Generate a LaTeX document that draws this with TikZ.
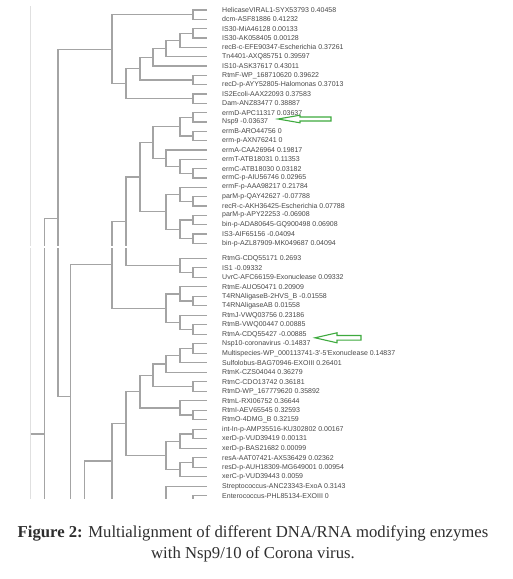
\documentclass[tikz,border=0pt]{standalone}
\usepackage{fontspec}
\setmainfont{Liberation Serif}
\newfontfamily\treefont{Liberation Sans}
\definecolor{treegray}{HTML}{A4A4A4}
\definecolor{arrowgreen}{HTML}{3EAA3E}

\tikzset{
    branch/.style={draw=treegray, line width=1.3pt},
    faintbranch/.style={draw=black!12, line width=1pt},
    leaflabel/.style={anchor=west, inner sep=0pt, text=black!72,
        font=\treefont\fontsize{7}{8}\selectfont},
    hollowarrow/.style={draw=arrowgreen, line width=1.1pt, fill=white},
}

\begin{document}
\begin{tikzpicture}[x=1pt, y=-1pt]
    \useasboundingbox (0,0) rectangle (512,579);

    \begin{scope}
    \clip (0,0) rectangle (512,498.5);

    % leaves
    \foreach \lab [count=\i] in {
        HelicaseVIRAL1-SYX53793 0.40458, dcm-ASF81886 0.41232,
        IS30-MiA46128 0.00133, IS30-AK058405 0.00128,
        recB-c-EFE90347-Escherichia 0.37261, Tn4401-AXQ85751 0.39597,
        IS10-ASK37617 0.43011, RtmF-WP\_168710620 0.39622,
        recD-p-AYY52805-Halomonas 0.37013, IS2Ecoli-AAX22093 0.37583,
        Dam-ANZ83477 0.38887, ermD-APC11317 0.03637, Nsp9 -0.03637,
        ermB-ARO44756 0, erm-p-AXN76241 0, ermA-CAA26964 0.19817,
        ermT-ATB18031 0.11353, ermC-ATB18030 0.03182,
        ermC-p-AIU56746 0.02965, ermF-p-AAA98217 0.21784,
        parM-p-QAY42627 -0.07788, recR-c-AKH36425-Escherichia 0.07788,
        parM-p-APY22253 -0.06908, bin-p-ADA80645-GQ900498 0.06908,
        IS3-AIF65156 -0.04094, bin-p-AZL87909-MK049687 0.04094,
        RtmG-CDQ55171 0.2693, IS1 -0.09332,
        UvrC-AFC66159-Exonuclease 0.09332, RtmE-AUO50471 0.20909,
        T4RNAligaseB-2HVS\_B -0.01558, T4RNAligaseAB 0.01558,
        RtmJ-VWQ03756 0.23186, RtmB-VWQ00447 0.00885,
        RtmA-CDQ55427 -0.00885, Nsp10-coronavirus -0.14837,
        Multispecies-WP\_000113741-3'-5'Exonuclease 0.14837,
        Sulfolobus-BAG70946-EXOIII 0.26401, RtmK-CZS04044 0.36279,
        RtmC-CDO13742 0.36181, RtmD-WP\_167779620 0.35892,
        RtmL-RXI06752 0.36644, RtmI-AEV65545 0.32593,
        RtmO-4DMG\_B 0.32159, int-In-p-AMP35516-KU302802 0.00167,
        xerD-p-VUD39419 0.00131, xerD-p-BAS21682 0.00099,
        resA-AAT07421-AX536429 0.02362, resD-p-AUH18309-MG649001 0.00954,
        xerC-p-VUD39443 0.0059, Streptococcus-ANC23343-ExoA 0.3143,
        Enterococcus-PHL85134-EXOIII 0}{
        \pgfmathsetmacro\ly{\i<27 ? 10+(\i-1)*9.33 : 258.3+(\i-27)*9.5}
        \coordinate (t\i) at (207,\ly);
        \node[leaflabel] (l\i) at (222,\ly) {\lab};
    }

    % clades, upper block
    \coordinate (c12) at (193,14.7);
    \coordinate (c34) at (193,33.3);
    \coordinate (cB) at (180,40.3);
    \coordinate (cC) at (166,48.5);
    \coordinate (cD) at (153,57.2);
    \coordinate (c89) at (193,80);
    \coordinate (cE) at (140,68.6);
    \coordinate (c1011) at (193,98.7);
    \coordinate (cF) at (126,83.6);
    \coordinate (cG) at (112,49.2);
    \coordinate (cH) at (58,218.3);
    \coordinate (cHlow) at (70.7,396.7);

    \draw[branch] (t1) -| (c12) |- (t2);
    \draw[branch] (t3) -| (c34) |- (t4);
    \draw[branch] (c34) -| (cB) |- (t5);
    \draw[branch] (cB) -| (cC) |- (t6);
    \draw[branch] (cC) -| (cD) |- (t7);
    \draw[branch] (t8) -| (c89) |- (t9);
    \draw[branch] (cD) -| (cE) |- (c89);
    \draw[branch] (t10) -| (c1011) |- (t11);
    \draw[branch] (cE) -| (cF) |- (c1011);
    \draw[branch] (c12) -| (cG) |- (cF);
    \draw[branch] (cG) -| (cH) |- (cHlow);

    % erm / parM block
    \coordinate (c1213) at (193,117.3);
    \coordinate (c1415) at (193,136);
    \coordinate (cL) at (180,126.6);
    \coordinate (c1819) at (193,173.3);
    \coordinate (cM) at (180,166.3);
    \coordinate (cN) at (166,158.2);
    \coordinate (cO) at (153,142.4);
    \coordinate (c2122) at (193,201.3);
    \coordinate (cP) at (180,194.3);
    \coordinate (c2324) at (193,220);
    \coordinate (c2526) at (193,238.7);
    \coordinate (cQ) at (180,229.3);
    \coordinate (cR) at (166,211.8);
    \coordinate (cS) at (140,177.1);

    \draw[branch] (t12) -| (c1213) |- (t13);
    \draw[branch] (t14) -| (c1415) |- (t15);
    \draw[branch] (c1213) -| (cL) |- (c1415);
    \draw[branch] (t18) -| (c1819) |- (t19);
    \draw[branch] (t17) -| (cM) |- (c1819);
    \draw[branch] (t16) -| (cN) |- (cM);
    \draw[branch] (cL) -| (cO) |- (cN);
    \draw[branch] (t21) -| (c2122) |- (t22);
    \draw[branch] (t20) -| (cP) |- (c2122);
    \draw[branch] (t23) -| (c2324) |- (t24);
    \draw[branch] (t25) -| (c2526) |- (t26);
    \draw[branch] (c2324) -| (cQ) |- (c2526);
    \draw[branch] (cP) -| (cR) |- (cQ);
    \draw[branch] (cO) -| (cS) |- (cR);

    % Rtm / exonuclease block
    \coordinate (c2829) at (193,272.6);
    \coordinate (cT) at (180,265.4);
    \coordinate (cU) at (126,221.3);
    \coordinate (c3132) at (193,301);
    \coordinate (cV) at (180,293.9);
    \coordinate (c3435) at (193,329.6);
    \coordinate (cW) at (180,322.4);
    \coordinate (cX) at (166,308.2);
    \coordinate (cY) at (112,264.7);
    \coordinate (cZ) at (70.7,505);

    \draw[branch] (t28) -| (c2829) |- (t29);
    \draw[branch] (t27) -| (cT) |- (c2829);
    \draw[branch] (cS) -| (cU) |- (cT);
    \draw[branch] (t31) -| (c3132) |- (t32);
    \draw[branch] (t30) -| (cV) |- (c3132);
    \draw[branch] (t34) -| (c3435) |- (t35);
    \draw[branch] (t33) -| (cW) |- (c3435);
    \draw[branch] (cV) -| (cX) |- (cW);
    \draw[branch] (cU) -| (cY) |- (cX);
    \draw[branch] (cY) -| (cZ);

    % lower block
    \coordinate (c3637) at (193,348.6);
    \coordinate (cAA) at (180,355.7);
    \coordinate (cAB) at (166,364);
    \coordinate (c4041) at (193,386.6);
    \coordinate (cAC) at (153,375.3);
    \coordinate (c4344) at (193,415);
    \coordinate (cAD) at (180,407.9);
    \coordinate (cAE) at (140,391.6);
    \coordinate (c4546) at (193,434);
    \coordinate (cAF) at (180,441.2);
    \coordinate (c4849) at (193,462.6);
    \coordinate (cAG) at (180,469.7);
    \coordinate (cAH) at (166,455.4);
    \coordinate (cAI) at (126,423.5);
    \coordinate (cAJ) at (112,505);
    \coordinate (cAM) at (112,461);
    \coordinate (cAL) at (84.3,505);
    \coordinate (cAN) at (166,505);
    \coordinate (cAO) at (193,505);

    \draw[branch] (t36) -| (c3637) |- (t37);
    \draw[branch] (c3637) -| (cAA) |- (t38);
    \draw[branch] (cAA) -| (cAB) |- (t39);
    \draw[branch] (t40) -| (c4041) |- (t41);
    \draw[branch] (cAB) -| (cAC) |- (c4041);
    \draw[branch] (t43) -| (c4344) |- (t44);
    \draw[branch] (t42) -| (cAD) |- (c4344);
    \draw[branch] (cAC) -| (cAE) |- (cAD);
    \draw[branch] (t45) -| (c4546) |- (t46);
    \draw[branch] (c4546) -| (cAF) |- (t47);
    \draw[branch] (t48) -| (c4849) |- (t49);
    \draw[branch] (c4849) -| (cAG) |- (t50);
    \draw[branch] (cAF) -| (cAH) |- (cAG);
    \draw[branch] (cAE) -| (cAI) |- (cAH);
    \draw[branch] (cAI) -| (cAJ);
    \draw[branch] (cAM) -| (cAL);
    \draw[branch] (t51) -| (cAN);
    \draw[branch] (t52) -| (cAO);

    % root side, cut off
    \coordinate (cRa) at (44.3,218.3);
    \coordinate (cRb) at (44.3,505);
    \coordinate (cRc) at (44.3,434);
    \coordinate (cTop) at (30.7,6);
    \coordinate (cBot) at (30.7,505);
    \coordinate (cRd) at (30.7,434);
    \draw[faintbranch] (cTop) -- (cBot);
    \draw[branch] (cH) -- (cRa) -- (cRb);
    \draw[branch] (cRd) -- (cRc);

    % seam between the two screenshots
    \fill[white] (25,246) rectangle (135,248.3);
    \end{scope}

    % pointers
    \coordinate (tipNsp9) at (278,119);
    \draw[hollowarrow] (tipNsp9) -- ++(22,-3.8) -- ++(0,1.8) -- ++(31,0)
        -- ++(0,4) -- ++(-31,0) -- ++(0,1.8) -- cycle;
    \coordinate (tipNsp10) at (315,337.8);
    \draw[hollowarrow] (tipNsp10) -- ++(22,-5) -- ++(0,2.7) -- ++(24,0)
        -- ++(0,4.6) -- ++(-24,0) -- ++(0,2.7) -- cycle;

    \node[font=\fontsize{16.7}{21}\selectfont, align=center, text=black!82]
        (caption) at (253,544)
        {\textbf{Figure 2:} Multialignment of different DNA/RNA modifying enzymes\\
        with Nsp9/10 of Corona virus.};
\end{tikzpicture}
\end{document}
